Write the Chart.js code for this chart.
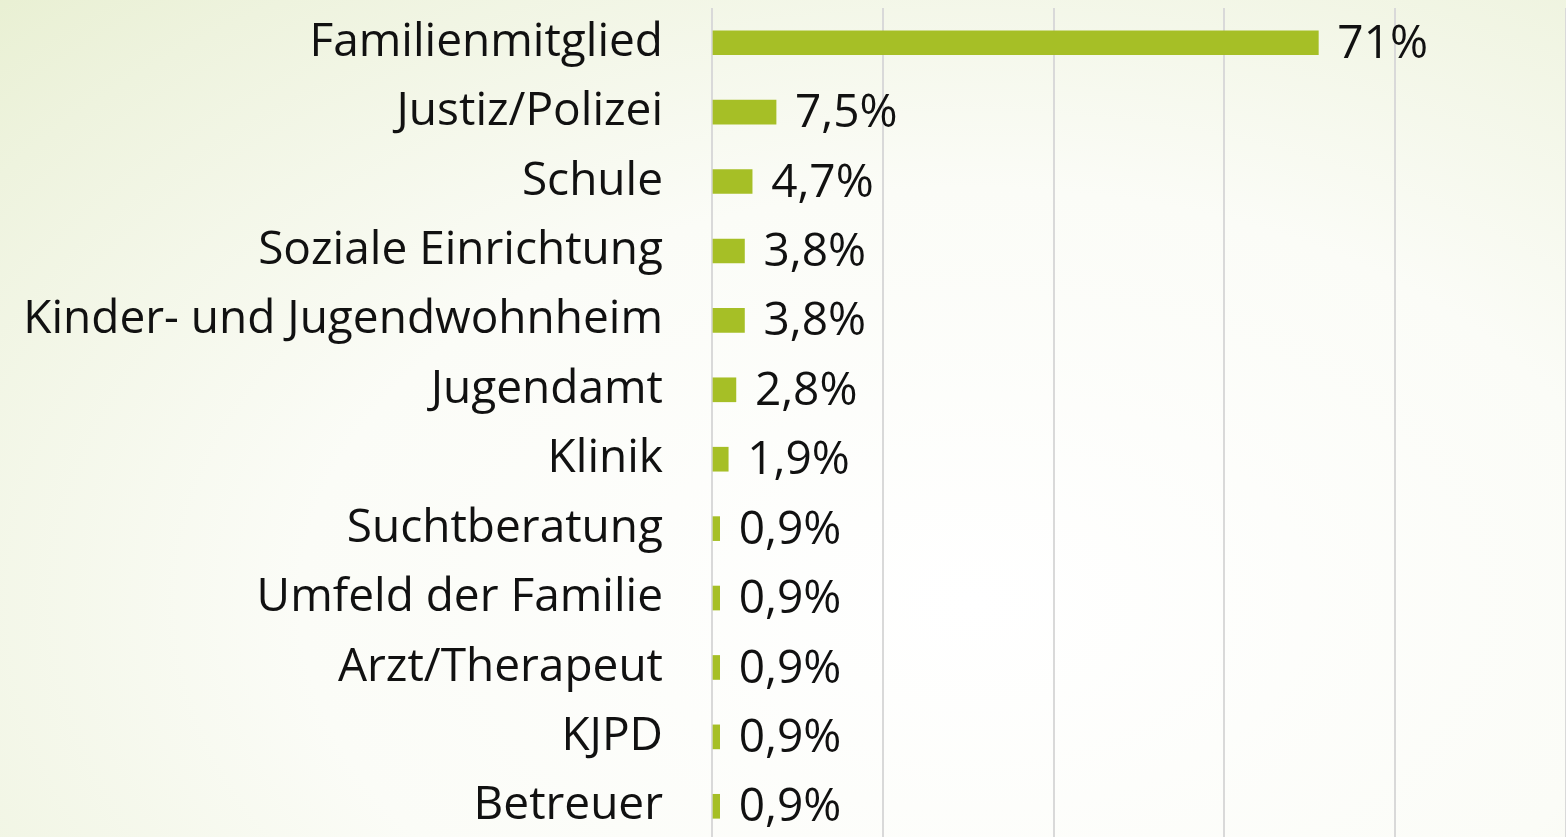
<!DOCTYPE html>
<html>
<head>
<meta charset="utf-8">
<script src="https://cdn.jsdelivr.net/npm/chart.js@4"></script>
<style>
  html, body { margin: 0; padding: 0; overflow: hidden; }
  body {
    width: 1566px; height: 837px;
    background: radial-gradient(ellipse 95% 110% at 62% 72%, #ffffff 0%, #fbfcf7 45%, #eef3de 80%, #e6eecd 100%);
  }
  .wrap { position: relative; width: 1566px; height: 841px; }
</style>
</head>
<body>
<div class="wrap"><canvas id="chart"></canvas></div>
<script>
const categories = [
  "Familienmitglied", "Justiz/Polizei", "Schule", "Soziale Einrichtung",
  "Kinder- und Jugendwohnheim", "Jugendamt", "Klinik", "Suchtberatung",
  "Umfeld der Familie", "Arzt/Therapeut", "KJPD", "Betreuer"
];
const shares = [71, 7.5, 4.7, 3.8, 3.8, 2.8, 1.9, 0.9, 0.9, 0.9, 0.9, 0.9];
const xMin = 0;
const xMax = 100;
const xStep = 20;

const labelFont = { family: "'Open Sans', sans-serif", size: 46 };

// value labels to the right of each bar
const valueLabels = {
  id: "valueLabels",
  afterDatasetsDraw(chart) {
    const ctx = chart.ctx;
    const meta = chart.getDatasetMeta(0);
    ctx.save();
    ctx.font = labelFont.size + "px " + labelFont.family;
    ctx.fillStyle = "#111111";
    ctx.textBaseline = "middle";
    ctx.textAlign = "left";
    meta.data.forEach(function (bar, i) {
      const txt = shares[i].toLocaleString("de-DE") + "%";
      ctx.fillText(txt, bar.x + 19, bar.y + 2);
    });
    ctx.restore();
  }
};

new Chart(document.getElementById("chart"), {
  type: "bar",
  data: {
    labels: categories,
    datasets: [{
      data: shares,
      backgroundColor: "#a6bf26",
      barThickness: 24
    }]
  },
  options: {
    indexAxis: "y",
    responsive: true,
    maintainAspectRatio: false,
    animation: false,
    layout: { padding: { top: 8, right: 0, bottom: 0, left: 0 } },
    plugins: { legend: { display: false }, tooltip: { enabled: false } },
    scales: {
      x: {
        min: xMin, max: xMax,
        ticks: { display: false, stepSize: xStep },
        grid: { color: "#d9d9d9", lineWidth: 2, drawTicks: false },
        border: { display: false },
        afterFit(scale) { scale.height = 0; }
      },
      y: {
        ticks: { color: "#111111", font: labelFont, padding: 49 },
        grid: { display: false, drawTicks: false },
        border: { display: false },
        afterFit(scale) {
          scale.width = 712;
          scale.paddingTop = 0;
          scale.paddingBottom = 0;
        }
      }
    }
  },
  plugins: [valueLabels]
});
</script>
</body>
</html>
